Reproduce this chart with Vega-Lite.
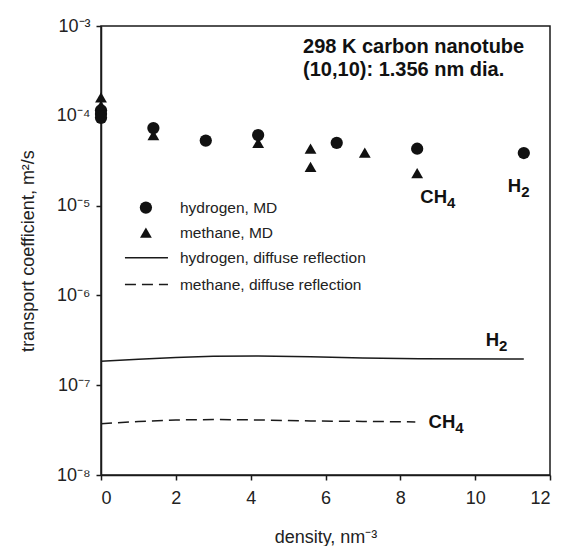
{
  "$schema": "https://vega.github.io/schema/vega-lite/v6.json",
  "width": 449,
  "height": 449,
  "autosize": {"type": "none"},
  "padding": {"left": 101, "top": 26, "right": 13, "bottom": 71},
  "background": "white",
  "config": {
    "font": "Liberation Sans",
    "view": {"stroke": "#1a1a1a", "strokeWidth": 1.5},
    "axis": {
      "domainColor": "#1a1a1a", "domainWidth": 1.5, "tickColor": "#1a1a1a", "tickWidth": 1.5,
      "tickSize": 5, "grid": false, "labelFont": "Liberation Sans", "labelFontSize": 18,
      "labelColor": "#222", "titleFont": "Liberation Sans", "titleFontSize": 18,
      "titleFontWeight": "normal", "titleColor": "#222"
    }
  },
  "layer": [
    {
      "data": {"values": [
        {"density": 0, "value": 1.85e-7}, {"density": 1, "value": 1.95e-7}, {"density": 2, "value": 2.04e-7},
        {"density": 3, "value": 2.1e-7}, {"density": 4.2, "value": 2.12e-7}, {"density": 5.6, "value": 2.08e-7},
        {"density": 7, "value": 2.01e-7}, {"density": 8.5, "value": 1.97e-7}, {"density": 11.3, "value": 1.96e-7}
      ]},
      "mark": {"type": "line", "color": "#1a1a1a", "strokeWidth": 1.5},
      "encoding": {
        "x": {"field": "density", "type": "quantitative",
          "scale": {"domain": [0, 12], "nice": false, "zero": false},
          "axis": {"values": [0, 2, 4, 6, 8, 10, 12], "title": "density, nm⁻³", "labelPadding": 9, "titlePadding": 21}},
        "y": {"field": "value", "type": "quantitative",
          "scale": {"type": "log", "domain": [1e-8, 1e-3], "nice": false},
          "axis": {"values": [1e-8, 1e-7, 1e-6, 1e-5, 1e-4, 1e-3],
            "labelExpr": "'10⁻' + ['⁰','¹','²','³','⁴','⁵','⁶','⁷','⁸','⁹'][round(-log(datum.value)/LN10)]",
            "title": "transport coefficient, m²/s", "labelPadding": 6, "titlePadding": 19}}
      }
    },
    {
      "data": {"values": [
        {"density": 0, "value": 3.72e-8}, {"density": 1, "value": 3.95e-8}, {"density": 2, "value": 4.1e-8},
        {"density": 3, "value": 4.15e-8}, {"density": 4.2, "value": 4.1e-8}, {"density": 5.6, "value": 4.0e-8},
        {"density": 7, "value": 3.95e-8}, {"density": 8.4, "value": 3.9e-8}
      ]},
      "mark": {"type": "line", "color": "#1a1a1a", "strokeWidth": 1.5, "strokeDash": [11, 6]},
      "encoding": {
        "x": {"field": "density", "type": "quantitative"},
        "y": {"field": "value", "type": "quantitative"}
      }
    },
    {
      "data": {"values": [
        {"density": 0, "value": 1.15e-4}, {"density": 0, "value": 1.05e-4}, {"density": 0, "value": 9.5e-5},
        {"density": 1.4, "value": 7.3e-5}, {"density": 2.8, "value": 5.3e-5}, {"density": 4.2, "value": 6.1e-5},
        {"density": 6.3, "value": 5.0e-5}, {"density": 8.45, "value": 4.3e-5}, {"density": 11.3, "value": 3.85e-5},
        {"density": 1.2, "value": 9.5e-6}
      ]},
      "mark": {"type": "point", "shape": "circle", "filled": true, "color": "#111", "opacity": 1, "size": 150},
      "encoding": {
        "x": {"field": "density", "type": "quantitative"},
        "y": {"field": "value", "type": "quantitative"}
      }
    },
    {
      "data": {"values": [
        {"density": 0, "value": 1.6e-4}, {"density": 0, "value": 1.3e-4},
        {"density": 1.4, "value": 6.1e-5}, {"density": 4.2, "value": 5.0e-5},
        {"density": 5.6, "value": 4.3e-5}, {"density": 5.6, "value": 2.7e-5},
        {"density": 7.05, "value": 3.9e-5}, {"density": 8.45, "value": 2.3e-5},
        {"density": 1.2, "value": 5.0e-6}
      ]},
      "mark": {"type": "point", "shape": "triangle-up", "filled": true, "color": "#111", "opacity": 1, "size": 140},
      "encoding": {
        "x": {"field": "density", "type": "quantitative"},
        "y": {"field": "value", "type": "quantitative"}
      }
    },
    {
      "data": {"values": [
        {"x1": 0.64, "x2": 1.79, "value": 2.63e-6, "dash": "solid"},
        {"x1": 0.64, "x2": 1.79, "value": 1.32e-6, "dash": "dashed"}
      ]},
      "mark": {"type": "rule", "color": "#1a1a1a", "strokeWidth": 1.5},
      "encoding": {
        "x": {"field": "x1", "type": "quantitative"},
        "x2": {"field": "x2"},
        "y": {"field": "value", "type": "quantitative"},
        "strokeDash": {"field": "dash", "type": "nominal", "scale": {"domain": ["solid", "dashed"], "range": [[1, 0], [11, 6]]}, "legend": null}
      }
    },
    {
      "data": {"values": [
        {"density": 2.11, "value": 9.5e-6, "label": "hydrogen, MD"},
        {"density": 2.11, "value": 5.0e-6, "label": "methane, MD"},
        {"density": 2.11, "value": 2.63e-6, "label": "hydrogen, diffuse reflection"},
        {"density": 2.11, "value": 1.32e-6, "label": "methane, diffuse reflection"}
      ]},
      "mark": {"type": "text", "align": "left", "baseline": "middle", "fontSize": 15.5, "color": "#222"},
      "encoding": {
        "x": {"field": "density", "type": "quantitative"},
        "y": {"field": "value", "type": "quantitative"},
        "text": {"field": "label"}
      }
    },
    {
      "data": {"values": [
        {"density": 11.23, "value": 1.66e-5, "main": "H", "sub": "2"},
        {"density": 9.25, "value": 1.26e-5, "main": "CH", "sub": "4"},
        {"density": 10.64, "value": 3.16e-7, "main": "H", "sub": "2"},
        {"density": 9.47, "value": 3.9e-8, "main": "CH", "sub": "4"}
      ]},
      "layer": [
        {
          "mark": {"type": "text", "align": "right", "baseline": "middle", "fontSize": 18.5, "fontWeight": "bold", "color": "#111"},
          "encoding": {
            "x": {"field": "density", "type": "quantitative"},
            "y": {"field": "value", "type": "quantitative"},
            "text": {"field": "main"}
          }
        },
        {
          "mark": {"type": "text", "align": "left", "baseline": "middle", "fontSize": 15, "fontWeight": "bold", "color": "#111", "dy": 6},
          "encoding": {
            "x": {"field": "density", "type": "quantitative"},
            "y": {"field": "value", "type": "quantitative"},
            "text": {"field": "sub"}
          }
        }
      ]
    },
    {
      "data": {"values": [
        {"density": 5.4, "value": 5.83e-4, "label": "298 K carbon nanotube"},
        {"density": 5.4, "value": 3.23e-4, "label": "(10,10): 1.356 nm dia."}
      ]},
      "mark": {"type": "text", "align": "left", "baseline": "middle", "fontSize": 20, "fontWeight": "bold", "color": "#111"},
      "encoding": {
        "x": {"field": "density", "type": "quantitative"},
        "y": {"field": "value", "type": "quantitative"},
        "text": {"field": "label"}
      }
    }
  ]
}
